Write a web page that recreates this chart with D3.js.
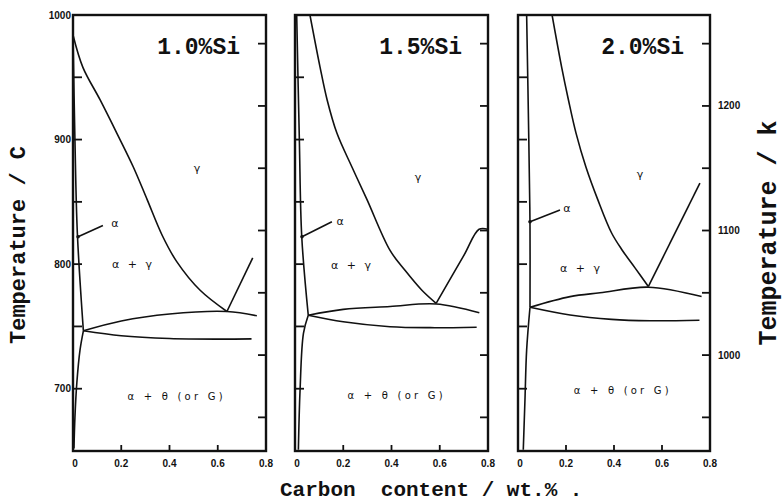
<!DOCTYPE html>
<html><head><meta charset="utf-8">
<script src="https://cdn.jsdelivr.net/npm/d3@7"></script>
<style>body{margin:0;background:#fff}svg{display:block}</style>
</head><body>
<svg id="c" width="784" height="501"></svg>
<script>
// ---------- data ----------
const panelTitles = ["1.0%Si", "1.5%Si", "2.0%Si"];
const xTicks = [0, 0.2, 0.4, 0.6, 0.8];
const xTickLabels = ["0", "0.2", "0.4", "0.6", "0.8"];
const celsiusTicks = [700, 750, 800, 850, 900, 950];
const celsiusLabels = [700, 800, 900, 1000];
const kelvinTicks = [950, 1000, 1050, 1100, 1150, 1200, 1250];
const kelvinLabels = [1000, 1100, 1200];
const tempDomain = [650, 1000];
const carbonDomain = [0, 0.8];

// 1.0 % Si  [carbon wt.%, temperature C]
const a3_10 = [[0,984],[0.041,958],[0.112,932],[0.182,905],[0.25,878],[0.307,852],[0.37,823],[0.43,802],[0.527,779],[0.638,762]];
const acm_10 = [[0.638,762],[0.745,805]];
const upper_10 = [[0.043,746.5],[0.2,754.4],[0.4,760],[0.638,762],[0.762,758.5]];
const lower_10 = [[0.043,746.5],[0.2,742.5],[0.4,740.3],[0.6,739.8],[0.74,740]];
const alpha_10 = [[0,984],[0.008,900],[0.018,825],[0.043,746.5]];
const solvus_10 = [[0.043,746.5],[0.029,731],[0.016,705],[0.008,677],[0.004,652]];

// 1.5 % Si
const a3_15 = [[0.062,1000],[0.104,958],[0.133,932],[0.174,905],[0.236,878],[0.298,852],[0.394,811],[0.456,795],[0.526,779],[0.585,768.5]];
const acm_15 = [[0.585,768.5],[0.7,807],[0.763,828],[0.8,828]];
const upper_15 = [[0.055,759],[0.2,763.7],[0.394,766],[0.585,768],[0.764,761]];
const lower_15 = [[0.055,759],[0.2,753.8],[0.394,749.8],[0.56,749],[0.753,749.4]];
const alpha_15 = [[0.007,1000],[0.018,900],[0.028,822],[0.055,759]];
const solvus_15 = [[0.055,759],[0.035,744.5],[0.021,699],[0.014,651]];

// 2.0 % Si
const a3_20 = [[0.142,1000],[0.182,958],[0.21,932],[0.242,905],[0.283,878],[0.332,852],[0.39,825],[0.435,811],[0.4875,797],[0.543,782]];
const acm_20 = [[0.543,782],[0.758,865]];
const upper_20 = [[0.05,765.4],[0.217,773.9],[0.342,777],[0.543,781.5],[0.765,774]];
const lower_20 = [[0.05,765.4],[0.217,759.2],[0.39,755.7],[0.55,754.6],[0.756,755]];
const alpha_20 = [[0.036,1000],[0.045,900],[0.05,830],[0.05,765.4]];
const solvus_20 = [[0.05,765.4],[0.036,731],[0.029,691],[0.022,651]];

// phase labels [carbon, temperature]
const gammaPos = [[0.514,877],[0.51,870],[0.508,872]];
const alphaPos = [[0.174,833],[0.187,835],[0.204,845]];
const alphaLeaders = [[[0.021,822],[0.124,831]],[[0.029,822],[0.153,834]],[[0.05,834],[0.175,843.5]]];
const alphaGammaPos = [[0.245,800],[0.232,799],[0.258,797]];
const alphaThetaPos = [[0.423,694],[0.415,695],[0.43,699]];
const phaseNames = {gamma: "γ", alpha: "α", alphaGamma: "α + γ", alphaTheta: "α + θ (or G)"};

// ---------- layout ----------
const svg = d3.select("#c");
const panelX = [[73, 266], [295, 488], [518, 710]];
const y = d3.scaleLinear().domain(tempDomain).range([451, 15]);
const ink = "#111";
const monoFont = "'Liberation Mono', 'Courier New', monospace";
const smallFont = "'Liberation Sans', Arial, sans-serif";

const panels = [
  {a3: a3_10, acm: acm_10, up: upper_10, lo: lower_10, al: alpha_10, so: solvus_10},
  {a3: a3_15, acm: acm_15, up: upper_15, lo: lower_15, al: alpha_15, so: solvus_15},
  {a3: a3_20, acm: acm_20, up: upper_20, lo: lower_20, al: alpha_20, so: solvus_20}
];

panels.forEach((p, i) => {
  const x = d3.scaleLinear().domain(carbonDomain).range(panelX[i]);
  const g = svg.append("g");
  const [x0, x1] = panelX[i];
  const [yb, yt] = y.range();

  const clipId = "clip" + i;
  svg.append("clipPath").attr("id", clipId).append("rect")
    .attr("x", x0).attr("y", yt).attr("width", x1 - x0).attr("height", yb - yt);

  const line = d3.line().x(d => x(d[0])).y(d => y(d[1])).curve(d3.curveCatmullRom.alpha(0.5));
  const curves = g.append("g").attr("clip-path", `url(#${clipId})`);
  [p.a3, p.acm, p.up, p.lo, p.al, p.so].forEach(d => {
    curves.append("path").attr("d", line(d)).attr("fill", "none")
      .attr("stroke", ink).attr("stroke-width", 1.6).attr("stroke-linejoin", "round");
  });

  // frame
  g.append("rect").attr("x", x0).attr("y", yt).attr("width", x1 - x0).attr("height", yb - yt)
    .attr("fill", "none").attr("stroke", ink).attr("stroke-width", 2.4);

  // inward celsius ticks on left
  celsiusTicks.forEach(t => {
    g.append("line").attr("x1", x0).attr("x2", x0 + 9).attr("y1", y(t)).attr("y2", y(t))
      .attr("stroke", ink).attr("stroke-width", 1.8);
  });
  // inward kelvin ticks on right
  kelvinTicks.forEach(k => {
    g.append("line").attr("x1", x1).attr("x2", x1 - 8).attr("y1", y(k - 273)).attr("y2", y(k - 273))
      .attr("stroke", ink).attr("stroke-width", 1.8);
  });
  // bottom ticks
  xTicks.slice(1, -1).forEach(c => {
    g.append("line").attr("x1", x(c)).attr("x2", x(c)).attr("y1", yb).attr("y2", yb - 6)
      .attr("stroke", ink).attr("stroke-width", 1.8);
  });
  // x tick labels
  xTicks.forEach((c, j) => {
    g.append("text").attr("x", x(c) + (j === 0 ? 2 : 0)).attr("y", 467).attr("text-anchor", "middle")
      .attr("font-family", smallFont).attr("font-size", 10).attr("font-weight", "bold")
      .attr("fill", ink).text(xTickLabels[j]);
  });

  // panel title
  g.append("text").attr("x", x1 - 26).attr("y", 54).attr("text-anchor", "end")
    .attr("font-family", monoFont).attr("font-size", 23).attr("font-weight", "bold")
    .attr("fill", ink).text(panelTitles[i]);

  // phase labels
  const lab = (pos, txt, size, len) => {
    const t = g.append("text").attr("x", x(pos[0])).attr("y", y(pos[1]) + 4).attr("text-anchor", "middle")
      .attr("font-family", "'DejaVu Sans', sans-serif").attr("font-size", size)
      .attr("fill", ink).text(txt);
    if (len) t.attr("textLength", len).attr("lengthAdjust", "spacing");
  };
  lab(gammaPos[i], phaseNames.gamma, 11);
  lab(alphaPos[i], phaseNames.alpha, 11);
  lab(alphaGammaPos[i], phaseNames.alphaGamma, 11, 40);
  lab(alphaThetaPos[i], phaseNames.alphaTheta, 10, 95);
  const ld = alphaLeaders[i];
  g.append("line").attr("x1", x(ld[0][0])).attr("y1", y(ld[0][1]))
    .attr("x2", x(ld[1][0])).attr("y2", y(ld[1][1]))
    .attr("stroke", ink).attr("stroke-width", 1.6);
  g.append("circle").attr("cx", x(ld[0][0])).attr("cy", y(ld[0][1])).attr("r", 1.8).attr("fill", ink);
});

// left celsius labels
celsiusLabels.forEach(t => {
  svg.append("text").attr("x", 71).attr("y", y(t) + 3.5).attr("text-anchor", "end")
    .attr("font-family", smallFont).attr("font-size", 10).attr("font-weight", "bold")
    .attr("fill", ink).text(t);
});
// right kelvin labels
kelvinLabels.forEach(k => {
  svg.append("text").attr("x", 718).attr("y", y(k - 273) + 3.5).attr("text-anchor", "start")
    .attr("font-family", smallFont).attr("font-size", 10).attr("font-weight", "bold")
    .attr("fill", ink).text(k);
});

// axis titles
svg.append("text").attr("transform", "translate(25,245) rotate(-90)").attr("text-anchor", "middle")
  .attr("font-family", monoFont).attr("font-size", 22).attr("font-weight", "bold")
  .attr("fill", ink).text("Temperature / C");
svg.append("text").attr("transform", "translate(776,233) rotate(-90)").attr("text-anchor", "middle")
  .attr("font-family", monoFont).attr("font-size", 25).attr("font-weight", "bold")
  .attr("fill", ink).text("Temperature / k");
svg.append("text").attr("x", 280).attr("y", 496)
  .attr("font-family", monoFont).attr("font-size", 21).attr("font-weight", "bold")
  .attr("fill", ink).attr("xml:space", "preserve").style("white-space", "pre")
  .text("Carbon  content / wt.% .");
</script>
</body></html>
